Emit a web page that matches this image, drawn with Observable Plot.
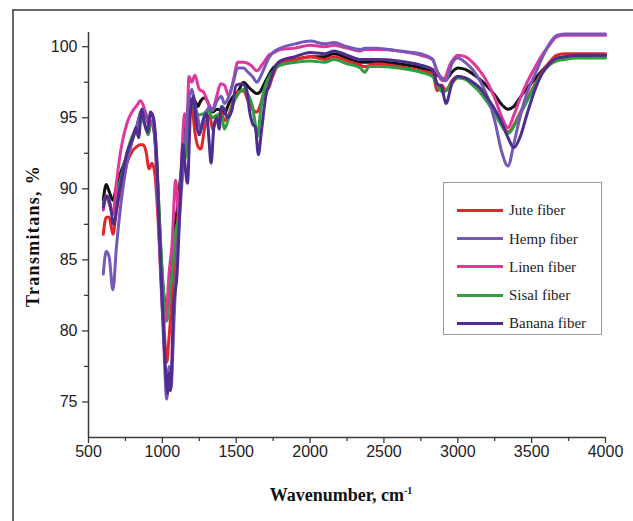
<!DOCTYPE html>
<html><head><meta charset="utf-8">
<script src="https://cdn.jsdelivr.net/npm/d3@7"></script>
<script src="https://cdn.jsdelivr.net/npm/@observablehq/plot@0.6"></script>
<style>
body{margin:0;background:#fff;}
#wrap{position:relative;width:633px;height:521px;overflow:hidden;background:#fff;}
#frame{position:absolute;left:12px;top:9px;width:700px;height:600px;border-left:2px solid #666;border-top:2px solid #666;}
#chart{position:absolute;left:0;top:0;}
#legend{position:absolute;left:443px;top:182px;width:157px;height:151px;border:1.5px solid #999;background:#fff;font-family:"Liberation Serif","Times New Roman",serif;font-size:15px;color:#222;}
.item{position:absolute;left:0;height:20px;width:157px;}
.sw{position:absolute;left:13px;top:8.5px;width:46px;height:3px;}
.lb{position:absolute;left:65px;top:0;line-height:20px;white-space:nowrap;}
</style>
</head><body>
<div id="wrap"><div id="frame"></div><div id="chart"></div><div id="legend"></div></div>
<script>
// ---- data ----
const seriesNames = ["Reference", "Jute fiber", "Sisal fiber", "Linen fiber", "Hemp fiber", "Banana fiber"];
const legendNames = ["Jute fiber", "Hemp fiber", "Linen fiber", "Sisal fiber", "Banana fiber"];
const seriesColors = ["#111111", "#e3262b", "#2f9e40", "#e0379c", "#7558b8", "#4e2c90"];
const xTicks = [500, 1000, 1500, 2000, 2500, 3000, 3500, 4000];
const xMinor = [750, 1250, 1750, 2250, 2750, 3250, 3750];
const yTicks = [75, 80, 85, 90, 95, 100];
const yMinor = [77.5, 82.5, 87.5, 92.5, 97.5];

const reference = [[600,89.2],[620,90.3],[640,89.8],[665,89.2],[690,90.2],[720,91.2],[760,92.3],[800,93.6],[830,94.5],[850,95.3],[870,95.6],[890,95.2],[910,94.5],[930,94.6],[950,93.5],[970,90],[990,85.5],[1010,82.5],[1030,81.8],[1045,82.5],[1060,84],[1080,87],[1100,88.5],[1120,90.5],[1140,92.5],[1160,94.5],[1180,96.0],[1200,96.3],[1220,96.2],[1240,95.8],[1260,96.2],[1290,96.4],[1320,95.8],[1340,95.4],[1370,95.6],[1400,95.5],[1420,95.3],[1450,96.0],[1480,96.5],[1510,96.8],[1550,97.5],[1580,97.2],[1610,96.9],[1640,96.7],[1660,96.8],[1690,97.4],[1720,98.0],[1750,98.5],[1800,98.9],[1900,99.1],[2000,99.3],[2100,99.3],[2160,99.5],[2250,99.2],[2340,98.9],[2370,98.9],[2450,98.9],[2600,98.8],[2750,98.5],[2830,98.2],[2860,98.0],[2890,97.8],[2920,97.7],[2960,98.2],[3000,98.5],[3050,98.4],[3100,98.1],[3150,97.7],[3200,97.2],[3250,96.6],[3300,95.9],[3340,95.6],[3380,95.8],[3420,96.4],[3470,97.1],[3520,97.7],[3570,98.3],[3620,98.8],[3670,99.1],[3720,99.2],[3800,99.3],[3900,99.4],[4000,99.4]];

const jute = [[600,86.8],[620,88.0],[640,88.0],[665,86.8],[690,88.5],[720,90.0],[760,91.8],[800,92.7],[830,93.0],[850,93.1],[870,93.1],[890,92.6],[910,91.4],[930,91.8],[950,91.0],[970,88],[990,84],[1010,80.5],[1030,77.8],[1045,79.5],[1060,81.5],[1080,84.5],[1100,87.3],[1120,90.0],[1140,92.0],[1160,93.8],[1180,95.6],[1200,95.7],[1220,94.0],[1240,93.0],[1260,92.8],[1290,94.5],[1320,95.2],[1340,94.2],[1370,95.0],[1400,95.4],[1420,94.8],[1450,95.2],[1480,96.2],[1510,96.8],[1550,96.9],[1580,96.2],[1610,95.6],[1640,95.4],[1660,95.8],[1690,96.8],[1720,97.1],[1750,98.0],[1800,98.9],[1900,99.1],[2000,99.3],[2100,99.1],[2160,99.3],[2250,99.0],[2340,98.7],[2370,98.6],[2450,98.8],[2600,98.6],[2750,98.3],[2830,98.1],[2860,96.9],[2890,97.3],[2920,96.9],[2960,97.6],[3000,97.9],[3050,97.8],[3100,97.5],[3150,97.0],[3200,96.3],[3250,95.5],[3300,94.6],[3340,94.0],[3380,94.5],[3420,95.3],[3470,96.3],[3520,97.3],[3570,98.2],[3620,98.9],[3670,99.4],[3720,99.5],[3800,99.5],[4000,99.5]];

const sisal = [[600,89.0],[620,89.5],[640,89.0],[665,88.3],[690,89.5],[720,90.8],[760,92.5],[800,93.8],[830,94.2],[850,95.2],[870,94.8],[890,94.2],[905,93.8],[920,94.5],[940,94.6],[960,92.5],[980,88],[1000,84],[1020,81.5],[1030,80.7],[1045,82.0],[1065,84],[1090,87],[1110,88.0],[1130,90.5],[1150,92.0],[1160,92.4],[1180,95.4],[1200,95.9],[1220,95.5],[1250,95.2],[1280,95.3],[1310,95.5],[1340,95.0],[1370,95.2],[1400,95.2],[1420,94.2],[1450,95.0],[1480,96.0],[1510,96.6],[1550,97.0],[1580,96.6],[1610,95.8],[1630,94.5],[1645,93.7],[1665,95.5],[1690,97.0],[1720,97.8],[1760,98.4],[1800,98.7],[1900,98.9],[2000,99.0],[2100,98.9],[2160,99.1],[2250,98.8],[2340,98.5],[2370,98.2],[2400,98.6],[2450,98.6],[2600,98.5],[2750,98.2],[2830,97.9],[2860,97.3],[2900,96.8],[2950,97.3],[3000,97.8],[3050,97.7],[3100,97.3],[3150,96.8],[3200,96.1],[3250,95.3],[3300,94.4],[3340,93.9],[3380,94.4],[3420,95.2],[3470,96.2],[3520,97.2],[3570,98.1],[3620,98.7],[3670,99.0],[3720,99.1],[3800,99.2],[4000,99.2]];

const linen = [[600,88.5],[620,89.5],[640,89.0],[665,88.2],[690,90.5],[720,92.8],[760,94.6],[800,95.5],[830,95.9],[850,96.2],[870,95.9],[890,95.2],[910,94.6],[930,94.8],[950,93.5],[970,89],[990,83.5],[1010,80.5],[1030,81.5],[1045,84.0],[1065,86],[1090,90.6],[1110,88.2],[1130,92.0],[1150,95.3],[1165,94.2],[1180,97.9],[1200,97.5],[1220,98.0],[1250,97.0],[1280,96.8],[1310,96.0],[1340,95.6],[1370,96.6],[1395,97.4],[1420,97.3],[1450,96.5],[1480,97.6],[1510,98.9],[1550,98.9],[1600,98.7],[1640,98.3],[1680,98.8],[1720,99.4],[1760,99.6],[1800,99.8],[1900,99.9],[2000,100.1],[2100,100.0],[2160,100.1],[2250,99.9],[2340,99.7],[2370,99.8],[2450,99.8],[2600,99.7],[2750,99.4],[2830,99.1],[2860,98.2],[2900,97.6],[2950,98.8],[3000,99.4],[3050,99.3],[3100,98.9],[3150,98.3],[3200,97.5],[3250,96.4],[3300,95.0],[3340,94.3],[3380,95.2],[3420,96.3],[3470,97.5],[3520,98.5],[3570,99.4],[3620,100.1],[3670,100.7],[3720,100.8],[3800,100.8],[4000,100.8]];

const hemp = [[600,84.0],[620,85.6],[640,85.2],[665,82.9],[690,86.0],[720,89.0],[760,91.8],[800,93.5],[830,94.5],[850,95.3],[870,95.6],[890,95.0],[910,95.0],[930,95.2],[950,93.5],[970,89],[990,84],[1010,79],[1030,75.2],[1045,77.5],[1058,76.0],[1080,81],[1100,85.5],[1120,88.5],[1140,91.5],[1160,94.0],[1180,96.2],[1200,97.0],[1220,96.0],[1240,95.0],[1260,94.2],[1290,95.2],[1320,95.8],[1340,95.5],[1370,96.2],[1400,96.5],[1420,96.0],[1450,96.5],[1480,97.5],[1510,98.5],[1550,98.5],[1580,98.2],[1610,97.9],[1640,97.5],[1660,97.8],[1690,98.5],[1720,99.2],[1750,99.6],[1800,99.9],[1900,100.2],[2000,100.4],[2100,100.2],[2160,100.3],[2250,100.0],[2340,99.8],[2370,99.9],[2450,99.9],[2600,99.7],[2750,99.5],[2830,99.1],[2860,98.3],[2890,97.8],[2920,97.6],[2960,98.8],[3000,99.2],[3050,98.9],[3100,98.4],[3150,97.6],[3200,96.5],[3250,94.8],[3300,92.5],[3340,91.6],[3380,93.2],[3420,95.0],[3470,96.8],[3520,98.0],[3570,99.2],[3620,100.2],[3670,100.8],[3720,100.9],[4000,100.9]];

const banana = [[600,88.7],[625,89.5],[645,89.0],[670,87.5],[700,89.3],[730,91.0],[760,92.5],[800,93.6],[820,94.3],[840,93.6],[860,95.6],[880,94.6],[900,94.0],[920,95.4],[940,95.0],[960,92.5],[980,87],[1000,82],[1020,77.5],[1035,75.6],[1045,77.0],[1055,75.8],[1075,81.5],[1100,84.1],[1120,89.0],[1140,93.1],[1155,91.5],[1170,90.4],[1190,95.3],[1210,96.5],[1230,94.6],[1250,93.8],[1280,95.0],[1300,95.3],[1315,93.5],[1330,91.8],[1350,94.5],[1370,95.0],[1385,94.2],[1400,95.8],[1420,95.6],[1440,95.0],[1470,95.5],[1500,97.3],[1540,97.4],[1570,97.0],[1590,95.5],[1610,94.6],[1630,94.3],[1650,92.4],[1670,94.0],[1700,96.5],[1730,97.6],[1760,98.5],[1800,99.0],[1900,99.3],[2000,99.6],[2100,99.5],[2160,99.7],[2250,99.4],[2340,99.1],[2370,99.1],[2450,99.1],[2600,99.0],[2750,98.7],[2830,98.4],[2860,97.4],[2890,97.2],[2920,96.0],[2960,97.4],[3000,97.9],[3050,97.8],[3100,97.5],[3150,97.1],[3200,96.4],[3250,95.6],[3300,94.6],[3340,93.6],[3380,92.9],[3420,93.6],[3470,95.3],[3520,96.9],[3570,98.1],[3620,98.8],[3670,99.2],[3720,99.3],[3800,99.4],[4000,99.4]];

const seriesData = [reference, jute, sisal, linen, hemp, banana];
const rows = [];
seriesData.forEach((arr, i) => arr.forEach(([wn, t]) => rows.push({series: seriesNames[i], wn, t})));

const axisColor = "#3a3a3a";
const chart = Plot.plot({
  width: 633, height: 521,
  marginLeft: 88, marginRight: 28, marginTop: 32, marginBottom: 84,
  x: {domain: [500, 4000]},
  y: {domain: [72.5, 101]},
  color: {domain: seriesNames, range: seriesColors},
  style: {fontFamily: '"Liberation Sans", Arial, sans-serif', fontSize: "16px", color: "#222", background: "transparent", overflow: "visible"},
  marks: [
    Plot.line(rows, {x: "wn", y: "t", z: "series", stroke: "series", strokeWidth: 3, curve: "monotone-x", strokeLinejoin: "round"}),
    Plot.axisX({ticks: xTicks, tickSize: 6, tickPadding: 2, tickFormat: d3.format("d"), label: null, stroke: axisColor, strokeWidth: 1.3}),
    Plot.axisX({ticks: xMinor, tickSize: 4, tickFormat: () => "", label: null, stroke: axisColor, strokeWidth: 1.3}),
    Plot.axisY({ticks: yTicks, tickSize: 6, tickPadding: 5, label: null, stroke: axisColor, strokeWidth: 1.3}),
    Plot.axisY({ticks: yMinor, tickSize: 4, tickFormat: () => "", label: null, stroke: axisColor, strokeWidth: 1.3}),
    Plot.ruleX([500], {stroke: axisColor, strokeWidth: 1.5}),
    Plot.ruleY([72.5], {stroke: axisColor, strokeWidth: 1.5})
  ]
});
document.getElementById("chart").appendChild(chart);

// axis titles
const svg = d3.select(chart);
svg.append("text")
  .attr("transform", "translate(39,236) rotate(-90)")
  .attr("text-anchor", "middle")
  .style("font-family", '"Liberation Serif","Times New Roman",serif')
  .style("font-weight", "bold").style("font-size", "18px").style("letter-spacing", "1.3px").attr("fill", "#111")
  .text("Transmitans, %");
const xt = svg.append("text")
  .attr("x", 341).attr("y", 501)
  .attr("text-anchor", "middle")
  .style("font-family", '"Liberation Serif","Times New Roman",serif')
  .style("font-weight", "bold").style("font-size", "18px").attr("fill", "#111");
xt.append("tspan").text("Wavenumber, cm");
xt.append("tspan").attr("dy", "-7").style("font-size", "10px").text("-1");

// legend
const leg = document.getElementById("legend");
const rowTops = [17, 45.5, 73.5, 102, 130];
legendNames.forEach((name, i) => {
  const it = document.createElement("div");
  it.className = "item"; it.style.top = rowTops[i] + "px";
  const sw = document.createElement("div"); sw.className = "sw";
  sw.style.background = seriesColors[seriesNames.indexOf(name)];
  const lb = document.createElement("div"); lb.className = "lb"; lb.textContent = name;
  it.appendChild(sw); it.appendChild(lb); leg.appendChild(it);
});
</script>
</body></html>
